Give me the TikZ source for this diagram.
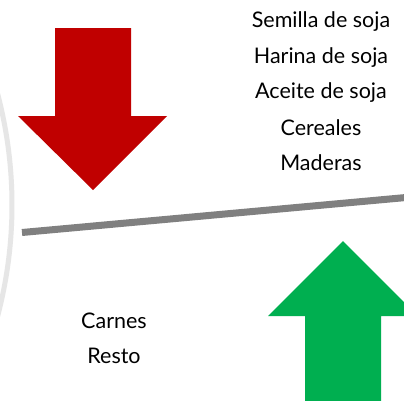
\documentclass[tikz,border=0pt]{standalone}
\usepackage{fontspec}
\setmainfont{Lato}
\definecolor{arrred}{HTML}{C00000}
\definecolor{arrgreen}{HTML}{00AF50}
\definecolor{linegray}{HTML}{808080}
\definecolor{arcgray}{HTML}{E6E6E6}
\begin{document}
\begin{tikzpicture}[x=1pt,y=-1pt,
  lbl/.style={font=\fontsize{21.5}{24}\selectfont, text=black, inner sep=0pt, anchor=center}]
\useasboundingbox (0,0) rectangle (404,400);
\fill[white] (0,0) rectangle (404,400);
% light arc at left
\draw[arcgray, line width=5pt] ([shift={(-15:437)}]-425,205) arc[start angle=-15, end angle=15, radius=437];
% red arrow
\fill[arrred] (55,28) -- (131,28) -- (131,116) -- (167,116) -- (93,190) -- (18,116) -- (55,116) -- cycle;
% green arrow
\begin{scope}
\clip (0,0) rectangle (404,400);
\fill[arrgreen] (305,402) -- (305,316) -- (268,316) -- (343,241) -- (418,316) -- (381,316) -- (381,402) -- cycle;
\end{scope}
% gray line
\coordinate (la) at (22,232.5);
\coordinate (lb) at (406,197.5);
\draw[linegray, line width=7pt] (la) -- (lb);
% texts
\node[lbl] (t1) at (321,22) {Semilla de soja};
\node[lbl] (t2) at (321,58) {Harina de soja};
\node[lbl] (t3) at (321,93) {Aceite de soja};
\node[lbl] (t4) at (321,128) {Cereales};
\node[lbl] (t5) at (321,163) {Maderas};
\node[lbl] (c1) at (114,321) {Carnes};
\node[lbl] (c2) at (114,356) {Resto};
\end{tikzpicture}
\end{document}
